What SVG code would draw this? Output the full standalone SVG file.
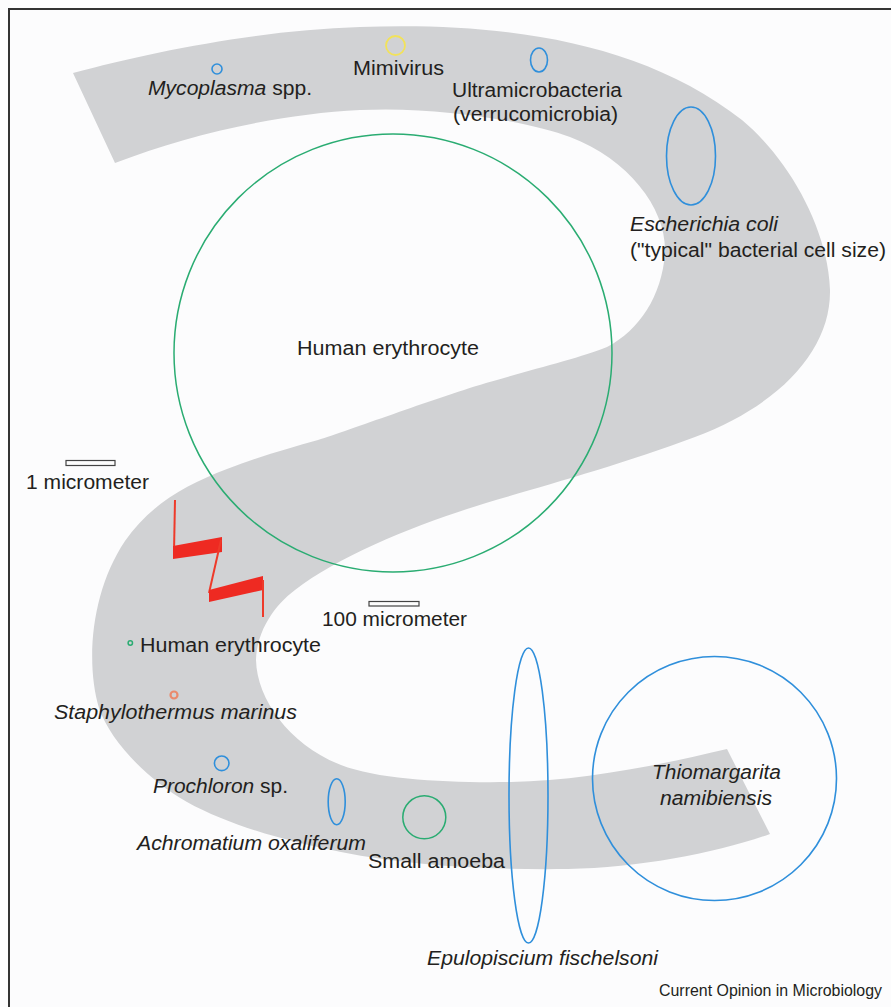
<svg xmlns="http://www.w3.org/2000/svg" width="891" height="1007" viewBox="0 0 891 1007">
<style>
.lbl{font-family:"Liberation Sans",Arial,Helvetica,sans-serif;font-size:20px;fill:#231f20}
.it{font-style:italic}
.blue{fill:none;stroke:#2f8fdb;stroke-width:1.6}
.green{fill:none;stroke:#2aac72;stroke-width:1.5}
.bar{fill:#fdfdfd;stroke:#444;stroke-width:1.2}
</style>
<rect x="0" y="0" width="891" height="1007" fill="#fcfcfd"/>
<rect x="9" y="9" width="900" height="1020" fill="none" stroke="#333" stroke-width="2"/>
<g id="band">
<path fill="#d1d2d4" d="M73,73 C150,52 260,30 360,27 C500,22 640,40 742,120 C790,160 828,230 830,290 C831,350 780,405 695,437 C620,465 540,487 486,503 C420,523 340,555 295,590 C275,605 257,630 256,660 C257,700 290,745 341,765 C380,780 450,783 511,782 C580,781 660,765 727,749 L770,834 C720,852 640,868 568,869 C490,870 410,866 341,852 C290,842 230,826 187,802 C145,778 110,740 99,708 C85,660 92,590 125,541 C150,505 185,485 227,469 C260,456 290,448 318,440 C350,430 430,400 486,383 C530,370 580,358 607,347 C640,330 662,295 665,253 C667,210 630,160 570,137 C530,122 440,106 360,110 C280,114 190,134 115,163 Z"/>
</g>
<g id="scale-break">
<polyline points="175,500 174,552" fill="none" stroke="#ee3a2a" stroke-width="2"/>
<polygon points="173,546 222,537 222,552 173,559" fill="#ee2a22"/>
<polyline points="221,540 209,593" fill="none" stroke="#ee3a2a" stroke-width="2"/>
<polygon points="209,590 263,576 263,590 209,602" fill="#ee2a22"/>
<polyline points="263,580 263,617" fill="none" stroke="#ee3a2a" stroke-width="2"/>
</g>
<g id="connectors"></g>
<g id="mycoplasma">
<circle cx="217" cy="69" r="5" class="blue"/>
<text class="lbl" x="148" y="95" textLength="164" lengthAdjust="spacingAndGlyphs"><tspan class="it">Mycoplasma</tspan> spp.</text>
</g>
<g id="mimivirus">
<circle cx="395.5" cy="45.5" r="9.5" fill="none" stroke="#f2e25a" stroke-width="1.8"/>
<text class="lbl" x="353" y="75" textLength="91" lengthAdjust="spacingAndGlyphs">Mimivirus</text>
</g>
<g id="ultramicrobacteria">
<ellipse cx="539" cy="60" rx="8.5" ry="12" class="blue"/>
<text class="lbl" x="452" y="97" textLength="170" lengthAdjust="spacingAndGlyphs">Ultramicrobacteria</text>
<text class="lbl" x="453" y="121" textLength="165" lengthAdjust="spacingAndGlyphs">(verrucomicrobia)</text>
</g>
<g id="ecoli">
<ellipse cx="691" cy="156" rx="24.5" ry="49" class="blue"/>
<text class="lbl it" x="630" y="231" textLength="148" lengthAdjust="spacingAndGlyphs">Escherichia coli</text>
<text class="lbl" x="630" y="257" textLength="256" lengthAdjust="spacingAndGlyphs">("typical" bacterial cell size)</text>
</g>
<g id="erythrocyte-large">
<circle cx="393" cy="353" r="219" class="green" stroke-width="1.3"/>
<text class="lbl" x="297" y="355" textLength="182" lengthAdjust="spacingAndGlyphs">Human erythrocyte</text>
</g>
<g id="scale-1um">
<rect x="66" y="460.5" width="49" height="5" class="bar"/>
<text class="lbl" x="26" y="489" textLength="123" lengthAdjust="spacingAndGlyphs">1 micrometer</text>
</g>
<g id="scale-100um">
<rect x="369" y="601.5" width="50" height="4.5" class="bar"/>
<text class="lbl" x="322" y="626" textLength="145" lengthAdjust="spacingAndGlyphs">100 micrometer</text>
</g>
<g id="erythrocyte-small">
<circle cx="130.3" cy="643" r="2.2" class="green" stroke-width="1.3"/>
<text class="lbl" x="140" y="652" textLength="181" lengthAdjust="spacingAndGlyphs">Human erythrocyte</text>
</g>
<g id="staphylothermus">
<circle cx="174" cy="695" r="3.5" fill="none" stroke="#ea8a6c" stroke-width="2.2"/>
<text class="lbl it" x="54" y="719" textLength="243" lengthAdjust="spacingAndGlyphs">Staphylothermus marinus</text>
</g>
<g id="prochloron">
<circle cx="221.7" cy="763.3" r="7.3" class="blue"/>
<text class="lbl" x="153" y="793" textLength="135" lengthAdjust="spacingAndGlyphs"><tspan class="it">Prochloron</tspan> sp.</text>
</g>
<g id="achromatium">
<ellipse cx="336.7" cy="801.7" rx="8.5" ry="23" class="blue"/>
<text class="lbl it" x="137" y="850" textLength="229" lengthAdjust="spacingAndGlyphs">Achromatium oxaliferum</text>
</g>
<g id="small-amoeba">
<circle cx="424.3" cy="817.3" r="21.5" class="green"/>
<text class="lbl" x="368" y="868" textLength="137" lengthAdjust="spacingAndGlyphs">Small amoeba</text>
</g>
<g id="epulopiscium">
<ellipse cx="528.5" cy="795.5" rx="19.5" ry="147.5" class="blue"/>
<text class="lbl it" x="427" y="965" textLength="231" lengthAdjust="spacingAndGlyphs">Epulopiscium fischelsoni</text>
</g>
<g id="thiomargarita">
<circle cx="714.5" cy="778.5" r="122" class="blue"/>
<text class="lbl it" x="652" y="779" textLength="129" lengthAdjust="spacingAndGlyphs">Thiomargarita</text>
<text class="lbl it" x="660" y="805" textLength="112" lengthAdjust="spacingAndGlyphs">namibiensis</text>
</g>
<g id="credit">
<text class="lbl" x="659" y="996" style="font-size:16px" textLength="223" lengthAdjust="spacingAndGlyphs">Current Opinion in Microbiology</text>
</g>
</svg>
